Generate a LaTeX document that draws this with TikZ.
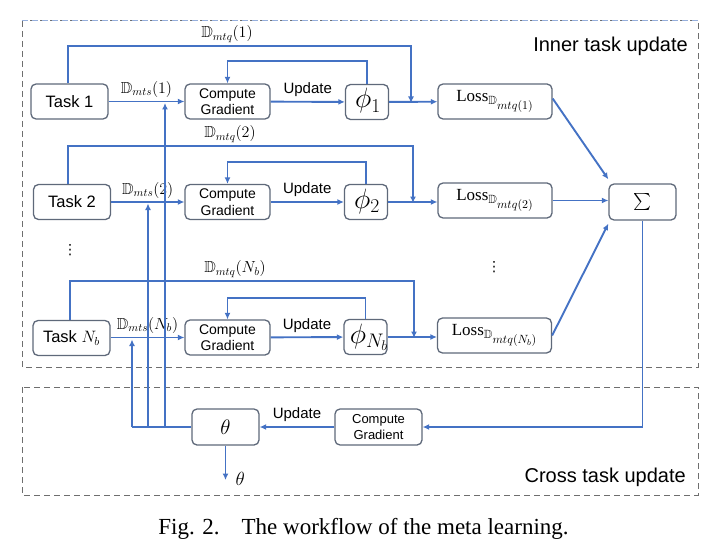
\RequirePackage{fix-cm}
\documentclass[tikz,border=0pt]{standalone}
\usepackage{amssymb}
\usepackage{fontspec}
\setmainfont{Liberation Serif}
\newfontfamily\arial{Liberation Sans}
\newfontfamily\dejavu{DejaVu Sans}
\usetikzlibrary{arrows.meta,calc}
\definecolor{lblue}{RGB}{68,114,196}
\definecolor{bgray}{RGB}{95,105,122}
\definecolor{dgray}{RGB}{110,110,110}
\definecolor{dblue}{RGB}{150,175,220}
\begin{document}
\begin{tikzpicture}[x=1pt,y=-1pt,
  box/.style={draw=bgray,line width=1.3pt,rounded corners=5pt,inner sep=0pt,fill=white},
  conn/.style={draw=lblue,line width=1.9pt,-{Latex[length=6.5pt,width=6pt]}},
  wire/.style={draw=lblue,line width=1.9pt},
  task/.style={box,minimum width=77pt,minimum height=35pt,font=\arial\fontsize{16.5}{18}\selectfont},
  cg/.style={box,minimum width=85pt,minimum height=35pt,align=center,font=\arial\fontsize{14}{16.5}\selectfont},
  phibox/.style={box,minimum width=43pt,minimum height=35pt},
  phitxt/.style={inner sep=0pt,font=\fontsize{28}{30}\selectfont},
  lossbox/.style={box,minimum width=114pt,minimum height=35pt,font=\fontsize{17}{19}\selectfont},
  lbl/.style={font=\fontsize{16}{18}\selectfont,inner sep=1pt},
  upd/.style={font=\arial\fontsize{15}{17}\selectfont,inner sep=1pt},
  dotsym/.style={font=\dejavu\fontsize{14}{16}\selectfont,inner sep=0pt},
  region/.style={dashed,dash pattern=on 6pt off 4pt,line width=1pt,draw=dgray},
  ttl/.style={font=\arial\fontsize{20}{22}\selectfont,anchor=east,inner sep=0pt}
]
\useasboundingbox (0,0) rectangle (719,548);

% regions
\draw[region] (22,21) rectangle (698,367);
\draw[region,draw=dblue] (22,21) -- (698,21);
\draw[region] (22,387) rectangle (698,495);
\node[ttl] (tin) at (688,46) {Inner task update};
\node[ttl] (tcr) at (686,477) {Cross task update};

% nodes
\node[task] (t1) at (69.5,101.5) {Task 1};
\node[task] (t2) at (72,202) {Task 2};
\node[task] (tn) at (71.5,338) {Task $N_b$};
\node[dotsym] (d1) at (70,250) {⋮};

\node[cg] (c1) at (227.5,101.5) {Compute\\Gradient};
\node[cg] (c2) at (227.5,202) {Compute\\Gradient};
\node[cg] (cn) at (227.5,337.5) {Compute\\Gradient};

\node[phibox] (p1) at (367,102) {};
\node[phitxt] (p1t) at (368,101) {$\phi_1$};
\node[phibox] (p2) at (366,202) {};
\node[phitxt] (p2t) at (367,201) {$\phi_2$};
\node[phibox] (pn) at (365.5,337) {};
\node[phitxt] (pnt) at (369,337) {$\phi_{N_b}$};

\node[lossbox] (l1) at (495,101.5) {$\mathrm{Loss}_{\mathbb{D}_{\scriptstyle mtq(1)}}$};
\node[lossbox] (l2) at (495,200.5) {$\mathrm{Loss}_{\mathbb{D}_{\scriptstyle mtq(2)}}$};
\node[lossbox] (ln) at (494.5,335.5) {$\mathrm{Loss}_{\mathbb{D}_{\scriptstyle mtq(N_b)}}$};
\node[dotsym] (d2) at (494,267) {⋮};

\node[box,minimum width=67pt,minimum height=36pt,font=\fontsize{17}{19}\selectfont] (sg) at (642.5,202) {$\sum$};

\node[box,minimum width=67pt,minimum height=36pt,font=\fontsize{21}{22}\selectfont] (th) at (225.5,427) {$\theta$};
\node[cg,minimum width=87pt,minimum height=36pt,font=\arial\fontsize{13}{15.5}\selectfont] (cx) at (378.5,427) {Compute\\Gradient};

% coordinates
\coordinate (j1) at (411,102);
\coordinate (j2) at (413,202);
\coordinate (jn) at (414,337);
\coordinate (o) at (225.5,480);

% task -> compute gradient
\draw[conn] (t1) -- (c1) node[lbl,midway,above=2pt] {$\mathbb{D}_{mts}(1)$};
\draw[conn] (t2) -- (c2) node[lbl,midway,above=2pt] {$\mathbb{D}_{mts}(2)$};
\draw[conn] (tn.east |- cn) -- (cn) node[lbl,midway,above=2pt] {$\mathbb{D}_{mts}(N_b)$};

% compute gradient -> phi
\draw[conn] (c1) -- (p1) node[upd,midway,above=3pt] {Update};
\draw[conn] (c2) -- (p2) node[upd,midway,above=3pt] {Update};
\draw[conn] (cn) -- (pn) node[upd,midway,above=3pt] {Update};

% phi -> loss
\draw[conn] (p1) -- (l1);
\draw[conn] (p2) -- (p2 -| l2.west);
\draw[conn] (pn) -- (pn -| ln.west);

% feedback phi -> compute gradient
\draw[conn] (p1.north) -- ++(0,-23) -| (c1.north);
\draw[conn] (p2.north) -- ++(0,-22) -| (c2.north);
\draw[conn] (pn.north) -- ++(0,-21) -| (cn.north);

% query set feeds
\draw[conn] ([xshift=-1.5pt]t1.north) |- (411,46) -- ([yshift=-1pt]j1);
\node[lbl] (q1) at (227,34) {$\mathbb{D}_{mtq}(1)$};
\draw[conn] ([xshift=-4pt]t2.north) |- (413,146) -- ([yshift=-1pt]j2);
\node[lbl] (q2) at (230,134) {$\mathbb{D}_{mtq}(2)$};
\draw[conn] ([xshift=-1.5pt]tn.north) |- (414,281) -- ([yshift=-1pt]jn);
\node[lbl] (qn) at (235,269) {$\mathbb{D}_{mtq}(N_b)$};

% loss -> sum
\draw[conn] ([yshift=3pt]l1.east) -- ([yshift=4pt]sg.north west);
\draw[conn] (l2.east) -- (l2.east -| sg.west);
\draw[conn] (ln.east) -- ([yshift=-3pt]sg.south west);

% sum -> cross compute gradient
\draw[conn] (sg.south) |- (cx.east);
\draw[conn] (cx) -- (th) node[upd,midway,above=3pt] {Update};

% theta -> tasks
\draw[wire] (th.west) -- (132,427);
\draw[conn] (132,427) -- (132,339.5);
\draw[conn] (148,427) -- (148,203.5);
\draw[conn] (165,427) -- (165,103);

% theta output
\draw[conn] (th.south) -- (o);
\node[font=\fontsize{19}{21}\selectfont,anchor=west] (ot) at (232,479) {$\theta$};

% caption
\node[font=\fontsize{23}{26}\selectfont] (cap) at (363.5,529) {Fig. 2.\hspace{22pt}The workflow of the meta learning.};
\end{tikzpicture}
\end{document}
